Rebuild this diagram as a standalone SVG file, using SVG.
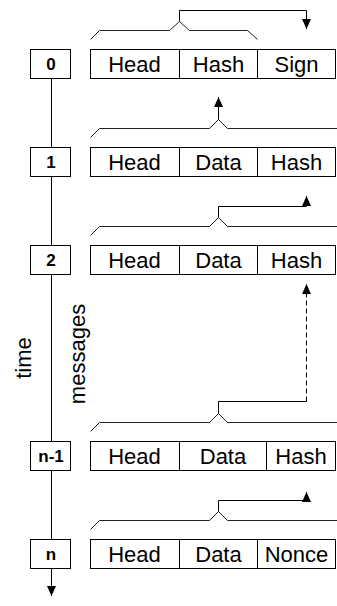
<svg xmlns="http://www.w3.org/2000/svg" width="337" height="606" viewBox="0 0 337 606">
<defs>
<marker id="au" viewBox="0 0 9 10" refX="4.5" refY="0" markerWidth="9" markerHeight="10" orient="0" markerUnits="userSpaceOnUse">
<path d="M4.5,0 L9,10 L0,10 Z" fill="#000"/>
</marker>
<marker id="ad" viewBox="0 0 9 10" refX="4.5" refY="10" markerWidth="9" markerHeight="10" orient="0" markerUnits="userSpaceOnUse">
<path d="M0,0 L9,0 L4.5,10 Z" fill="#000"/>
</marker>
</defs>
<style>
.box{fill:#fff;stroke:#000;stroke-width:1}
.ln{fill:none;stroke:#000;stroke-width:1}
.br{fill:none;stroke:#222;stroke-width:1}
.t{font-family:"Liberation Sans",Arial,sans-serif;font-size:22px;fill:#000;text-anchor:middle}
.n{font-family:"Liberation Sans",Arial,sans-serif;font-size:17px;font-weight:bold;fill:#000;text-anchor:middle}
.dash{stroke-dasharray:5,3}
</style>
<rect width="337" height="606" fill="#fff"/>
<g id="connectors">
<line class="ln" x1="51.5" y1="78.5" x2="51.5" y2="147.5"/>
<line class="ln" x1="51.5" y1="176.5" x2="51.5" y2="245.5"/>
<line class="ln" x1="51.5" y1="274.5" x2="51.5" y2="441.5"/>
<line class="ln" x1="51.5" y1="470.5" x2="51.5" y2="539.5"/>
<path class="ln" d="M51.5,568.5 V596" marker-end="url(#ad)"/>
<path class="br" d="M90.5,39.5 L99.5,30.5 H169.5 L179.5,21.5 L189.5,30.5 H247.5 L257.5,39.5"/>
<path class="br" d="M90.5,137.5 L99.5,128.5 H209.5 L218.5,119.5 L227.5,128.5 H337.5 L346.5,137.5"/>
<path class="br" d="M90.5,235.5 L99.5,226.5 H209.5 L218.5,217.5 L227.5,226.5 H337.5 L346.5,235.5"/>
<path class="br" d="M90.5,431.5 L99.5,422.5 H209.5 L218.5,413.5 L227.5,422.5 H337.5 L346.5,431.5"/>
<path class="br" d="M90.5,529.5 L99.5,520.5 H209.5 L218.5,511.5 L227.5,520.5 H337.5 L346.5,529.5"/>
<path class="ln" d="M179.5,21.5 V10.5 H306.5 V29" marker-end="url(#ad)"/>
<path class="ln" d="M218.5,119.5 V97" marker-end="url(#au)"/>
<path class="ln" d="M218.5,217.5 V206.5 H306.5 V196" marker-end="url(#au)"/>
<path class="ln" d="M218.5,413.5 V401.5 H306.5"/>
<path class="ln dash" d="M306.5,401.5 V284" marker-end="url(#au)"/>
<path class="ln" d="M218.5,511.5 V500.5 H306.5 V492" marker-end="url(#au)"/>
</g>
<g id="t0">
<rect class="box" x="30.5" y="49.5" width="40" height="29"/>
<text class="n" x="51" y="70">0</text>
</g>
<g id="t1">
<rect class="box" x="30.5" y="147.5" width="40" height="29"/>
<text class="n" x="51" y="168">1</text>
</g>
<g id="t2">
<rect class="box" x="30.5" y="245.5" width="40" height="29"/>
<text class="n" x="51" y="266">2</text>
</g>
<g id="tn1">
<rect class="box" x="30.5" y="441.5" width="40" height="29"/>
<text class="n" x="51" y="462">n-1</text>
</g>
<g id="tn">
<rect class="box" x="30.5" y="539.5" width="40" height="29"/>
<text class="n" x="51" y="560">n</text>
</g>
<g id="m0">
<rect class="box" x="90.5" y="49.5" width="245" height="29"/>
<line class="ln" x1="179.5" y1="49.5" x2="179.5" y2="78.5"/>
<line class="ln" x1="257.5" y1="49.5" x2="257.5" y2="78.5"/>
<text class="t" x="134.5" y="71.5">Head</text>
<text class="t" x="218.5" y="71.5">Hash</text>
<text class="t" x="296.5" y="71.5">Sign</text>
</g>
<g id="m1">
<rect class="box" x="90.5" y="147.5" width="245" height="29"/>
<line class="ln" x1="179.5" y1="147.5" x2="179.5" y2="176.5"/>
<line class="ln" x1="257.5" y1="147.5" x2="257.5" y2="176.5"/>
<text class="t" x="134.5" y="169.5">Head</text>
<text class="t" x="218.5" y="169.5">Data</text>
<text class="t" x="296.5" y="169.5">Hash</text>
</g>
<g id="m2">
<rect class="box" x="90.5" y="245.5" width="245" height="29"/>
<line class="ln" x1="179.5" y1="245.5" x2="179.5" y2="274.5"/>
<line class="ln" x1="257.5" y1="245.5" x2="257.5" y2="274.5"/>
<text class="t" x="134.5" y="267.5">Head</text>
<text class="t" x="218.5" y="267.5">Data</text>
<text class="t" x="296.5" y="267.5">Hash</text>
</g>
<g id="mn1">
<rect class="box" x="90.5" y="441.5" width="245" height="29"/>
<line class="ln" x1="179.5" y1="441.5" x2="179.5" y2="470.5"/>
<line class="ln" x1="266.5" y1="441.5" x2="266.5" y2="470.5"/>
<text class="t" x="134.5" y="463.5">Head</text>
<text class="t" x="223" y="463.5">Data</text>
<text class="t" x="301" y="463.5">Hash</text>
</g>
<g id="mn">
<rect class="box" x="90.5" y="539.5" width="245" height="29"/>
<line class="ln" x1="179.5" y1="539.5" x2="179.5" y2="568.5"/>
<line class="ln" x1="257.5" y1="539.5" x2="257.5" y2="568.5"/>
<text class="t" x="134.5" y="561.5">Head</text>
<text class="t" x="218.5" y="561.5">Data</text>
<text class="t" x="296.5" y="561.5">Nonce</text>
</g>
<g id="labels">
<text class="t" transform="translate(31,358) rotate(-90)">time</text>
<text class="t" transform="translate(85,354) rotate(-90)">messages</text>
</g>
</svg>
